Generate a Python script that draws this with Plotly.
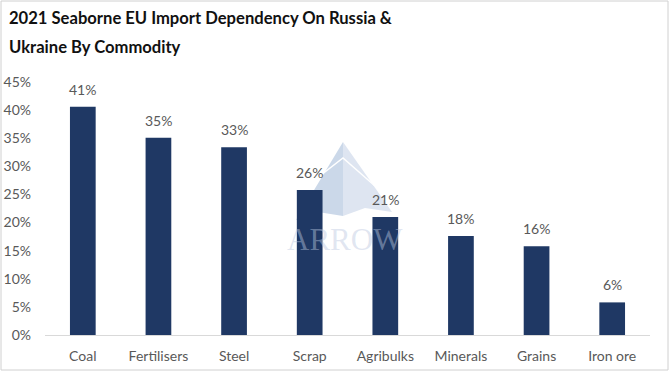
import plotly.graph_objects as go

categories = ["Coal", "Fertilisers", "Steel", "Scrap", "Agribulks", "Minerals", "Grains", "Iron ore"]
dependency = [0.406, 0.351, 0.334, 0.258, 0.210, 0.176, 0.158, 0.058]
y_ticks = [0, 0.05, 0.10, 0.15, 0.20, 0.25, 0.30, 0.35, 0.40, 0.45]
title_lines = ["2021 Seaborne EU Import Dependency On Russia &amp;", "Ukraine By Commodity"]

W, H = 670, 380
ml, mr, mt, mb = 45, 20, 82, 45
pw, ph = W - ml - mr, H - mt - mb

def px_x(x):
    return (x - ml) / pw

def px_y(y):
    return (H - mb - y) / ph

fig = go.Figure()
fig.add_trace(go.Bar(
    x=categories, y=dependency,
    marker=dict(color="#1F3864", line=dict(width=0)),
    hoverinfo="skip",
))

# data labels
for c, v in zip(categories, dependency):
    fig.add_annotation(x=c, y=v, text=f"{v:.0%}", showarrow=False,
                       yanchor="bottom", yshift=7,
                       font=dict(family="Lato", size=14, color="#595959"))

# watermark
fig.add_shape(type="path", xref="paper", yref="paper", layer="below",
              path=(f"M {px_x(343)} {px_y(142)} L {px_x(296)} {px_y(220)} L {px_x(318)} {px_y(212)} "
                    f"L {px_x(343)} {px_y(216)} Z"),
              fillcolor="rgba(190,206,228,0.8)", line=dict(width=0))
fig.add_shape(type="path", xref="paper", yref="paper", layer="below",
              path=(f"M {px_x(343)} {px_y(142)} L {px_x(343)} {px_y(216)} L {px_x(365)} {px_y(208)} "
                    f"L {px_x(392)} {px_y(212)} Z"),
              fillcolor="rgba(214,222,238,0.8)", line=dict(width=0))
fig.add_shape(type="path", xref="paper", yref="paper", layer="below",
              path=f"M {px_x(312)} {px_y(182)} L {px_x(343)} {px_y(158)} L {px_x(375)} {px_y(186)}",
              line=dict(color="white", width=1.5))
fig.add_annotation(text="ARROW", xref="paper", yref="paper",
                   x=px_x(345), y=px_y(239), showarrow=False,
                   font=dict(family="Liberation Serif", size=31, color="rgba(188,200,224,0.45)"))
# title
for i, line in enumerate(title_lines):
    fig.add_annotation(text=f"<b>{line}</b>", xref="paper", yref="paper",
                       x=px_x(7), xanchor="left", y=px_y(18.5 + 29 * i), yanchor="middle",
                       showarrow=False,
                       font=dict(family="Lato", size=16.6, color="#111111"))
# outer border
fig.add_shape(type="rect", xref="paper", yref="paper",
              x0=px_x(1), x1=px_x(668), y0=px_y(370), y1=px_y(1),
              line=dict(color="#d0d0d0", width=1))

fig.update_layout(
    width=W, height=H,
    margin=dict(l=ml, r=mr, t=mt, b=mb, autoexpand=False),
    paper_bgcolor="white", plot_bgcolor="white",
    bargap=0.66,
    showlegend=False,
    xaxis=dict(showline=True, linecolor="#d9d9d9", linewidth=1, ticks="",
               ticklabelstandoff=8, automargin=False,
               tickfont=dict(family="Lato", size=14, color="#595959"), fixedrange=True),
    yaxis=dict(range=[0, 0.45], tickvals=y_ticks, tickformat=".0%", showgrid=False,
               zeroline=False, showline=False, ticks="", ticklabelstandoff=13,
               automargin=False,
               tickfont=dict(family="Lato", size=14, color="#595959"), fixedrange=True),
)

fig.write_html("out.html", config={"displayModeBar": False},
               post_script="document.body.style.margin='0';")
